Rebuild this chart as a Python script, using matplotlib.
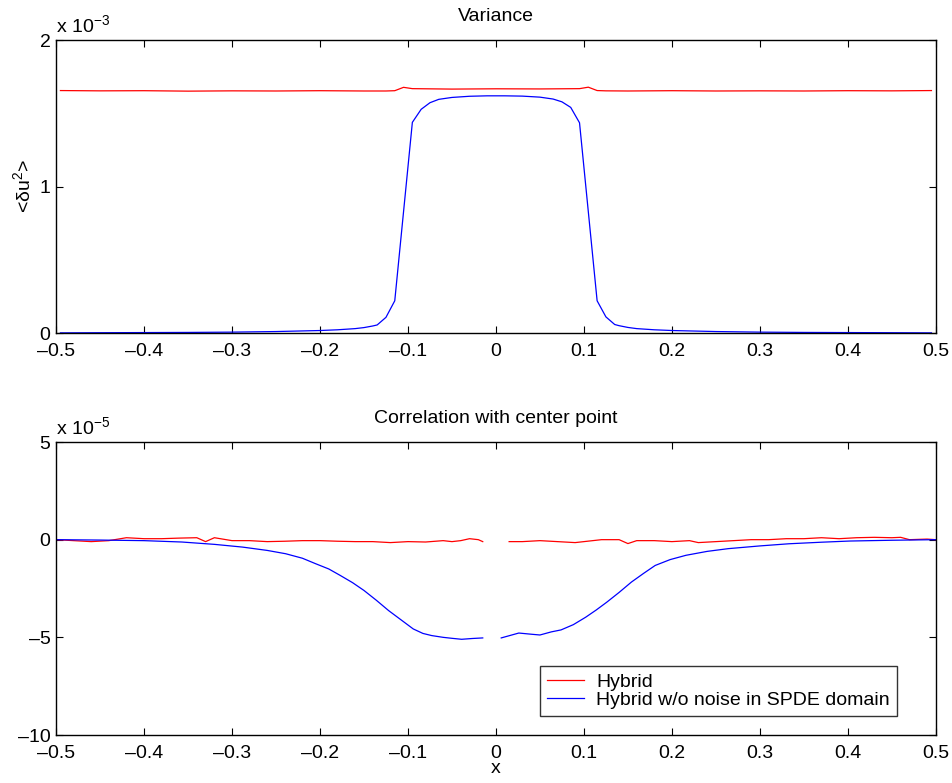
#!/usr/bin/env python3

import numpy as np
import matplotlib.pyplot as plt
from matplotlib.ticker import FuncFormatter

plt.rcParams['font.family'] = ['Liberation Sans', 'DejaVu Sans']
plt.rcParams['mathtext.fontset'] = 'custom'
plt.rcParams['mathtext.rm'] = 'Liberation Sans'
plt.rcParams['mathtext.it'] = 'Liberation Sans'

# ---- top panel: variance (units of 1e-3) ----
var_x = [-0.495, -0.45, -0.4, -0.35, -0.3, -0.25, -0.2, -0.18, -0.16, -0.15, -0.14, -0.135,
         -0.125, -0.115, -0.095, -0.085, -0.075, -0.065, -0.05, -0.03, -0.01,
         0.01, 0.03, 0.05, 0.065, 0.075, 0.085, 0.095, 0.115, 0.125,
         0.135, 0.14, 0.15, 0.16, 0.18, 0.2, 0.25, 0.3, 0.35, 0.4, 0.45, 0.495]
var_nonoise = [0.001, 0.002, 0.003, 0.004, 0.006, 0.010, 0.017, 0.022, 0.030, 0.037, 0.048, 0.055,
               0.107, 0.22, 1.438, 1.527, 1.572, 1.595, 1.608, 1.616, 1.619,
               1.619, 1.617, 1.610, 1.597, 1.578, 1.540, 1.435, 0.22, 0.11,
               0.058, 0.050, 0.038, 0.030, 0.022, 0.017, 0.010, 0.006, 0.004, 0.003, 0.002, 0.001]

hyb_x = [-0.495, -0.45, -0.4, -0.35, -0.3, -0.25, -0.2, -0.15, -0.125, -0.115, -0.105, -0.095,
         -0.05, 0.0, 0.05, 0.095, 0.105, 0.115, 0.125, 0.15, 0.2, 0.25, 0.3, 0.35, 0.4, 0.45, 0.495]
var_hybrid = [1.655, 1.653, 1.654, 1.651, 1.653, 1.652, 1.654, 1.652, 1.652, 1.654, 1.677, 1.668,
              1.665, 1.667, 1.666, 1.668, 1.678, 1.655, 1.653, 1.652, 1.654, 1.652, 1.653, 1.652,
              1.654, 1.653, 1.655]

# ---- bottom panel: correlation with center point (units of 1e-5) ----
corr_hyb_xl = [-0.5, -0.48, -0.46, -0.44, -0.42, -0.40, -0.38, -0.36, -0.34, -0.33, -0.32, -0.30,
               -0.28, -0.26, -0.24, -0.22, -0.20, -0.18, -0.16, -0.14, -0.12, -0.10, -0.08,
               -0.06, -0.05, -0.04, -0.03, -0.02, -0.015]
corr_hyb_yl = [0.0, -0.05, -0.1, -0.05, 0.1, 0.05, 0.05, 0.08, 0.1, -0.1, 0.1, -0.05,
               -0.05, -0.1, -0.08, -0.05, -0.05, -0.08, -0.1, -0.1, -0.15, -0.1, -0.12,
               -0.05, -0.1, -0.05, 0.05, 0.0, -0.1]
corr_hyb_xr = [0.015, 0.03, 0.05, 0.07, 0.09, 0.10, 0.12, 0.14, 0.15, 0.16, 0.18, 0.20, 0.22,
               0.23, 0.25, 0.27, 0.29, 0.31, 0.33, 0.35, 0.37, 0.39, 0.41, 0.43, 0.45, 0.46,
               0.47, 0.49, 0.5]
corr_hyb_yr = [-0.1, -0.1, -0.05, -0.1, -0.15, -0.1, 0.0, 0.0, -0.2, -0.05, -0.05, -0.1, -0.05,
               -0.15, -0.1, -0.05, 0.0, 0.0, 0.05, 0.05, 0.1, 0.05, 0.1, 0.12, 0.1, 0.12,
               0.0, 0.03, 0.0]

corr_nn_xl = [-0.5, -0.45, -0.4, -0.357, -0.32, -0.288, -0.26, -0.239, -0.22, -0.205, -0.19,
              -0.177, -0.163, -0.15, -0.136, -0.122, -0.108, -0.094, -0.083, -0.073, -0.06,
              -0.05, -0.039, -0.027, -0.015]
corr_nn_yl = [0.0, -0.02, -0.05, -0.12, -0.24, -0.38, -0.55, -0.72, -0.95, -1.23, -1.5,
              -1.83, -2.2, -2.6, -3.1, -3.63, -4.1, -4.57, -4.8, -4.91, -5.0,
              -5.05, -5.1, -5.06, -5.03]
corr_nn_xr = [0.006, 0.026, 0.04, 0.05, 0.063, 0.074, 0.088, 0.102, 0.114, 0.126, 0.14,
              0.154, 0.168, 0.181, 0.198, 0.216, 0.24, 0.264, 0.3, 0.333, 0.37, 0.402,
              0.45, 0.5]
corr_nn_yr = [-5.03, -4.78, -4.84, -4.88, -4.72, -4.62, -4.35, -3.97, -3.6, -3.2, -2.7,
              -2.17, -1.72, -1.32, -1.02, -0.80, -0.60, -0.46, -0.32, -0.21, -0.13, -0.07,
              -0.03, 0.0]

red = (1, 0, 0)
blue = (0, 0, 1)
lw = 0.9
fs = 14

fig = plt.figure(figsize=(9.53, 7.83), dpi=100)
ax1 = fig.add_axes([0.0588, 0.5747, 0.9232, 0.3742])
ax2 = fig.add_axes([0.0588, 0.0613, 0.9232, 0.3742])

def style(ax):
    ax.set_xlim(-0.5, 0.5)
    ax.set_xticks(np.arange(-0.5, 0.51, 0.1))
    ax.xaxis.set_major_formatter(FuncFormatter(lambda v, p: '0' if abs(v) < 1e-9 else ('%.1f' % v).replace('-', '\u2013')))
    ax.tick_params(direction='in', top=True, right=True, length=5, width=0.8, labelsize=fs)
    ax.tick_params(axis='x', pad=7)
    ax.tick_params(axis='y', pad=4)
    for s in ax.spines.values():
        s.set_linewidth(1.0)

# top
ax1.plot(np.array(hyb_x), np.array(var_hybrid) * 1e-3, color=red, lw=lw)
ax1.plot(np.array(var_x), np.array(var_nonoise) * 1e-3, color=blue, lw=lw)
style(ax1)
ax1.set_ylim(0, 2e-3)
ax1.set_yticks([0, 1e-3, 2e-3])
ax1.yaxis.set_major_formatter(FuncFormatter(lambda v, p: '%d' % round(v / 1e-3)))
ax1.set_title('Variance', fontsize=fs, pad=14)
ax1.set_ylabel('<δu$^{2}$>', fontsize=fs, labelpad=4)
ax1.text(0.0, 1.012, 'x 10$^{\u22123}$',
         transform=ax1.transAxes, fontsize=fs, ha='left', va='bottom')

# bottom
ax2.plot(np.array(corr_hyb_xl), np.array(corr_hyb_yl) * 1e-5, color=red, lw=lw, label='Hybrid')
ax2.plot(np.array(corr_nn_xl), np.array(corr_nn_yl) * 1e-5, color=blue, lw=lw,
         label='Hybrid w/o noise in SPDE domain')
ax2.plot(np.array(corr_hyb_xr), np.array(corr_hyb_yr) * 1e-5, color=red, lw=lw)
ax2.plot(np.array(corr_nn_xr), np.array(corr_nn_yr) * 1e-5, color=blue, lw=lw)
style(ax2)
ax2.set_ylim(-10e-5, 5e-5)
ax2.set_yticks([-10e-5, -5e-5, 0, 5e-5])
ax2.yaxis.set_major_formatter(FuncFormatter(lambda v, p: ('%d' % round(v / 1e-5)).replace('-', '\u2013')))
ax2.set_title('Correlation with center point', fontsize=fs, pad=14)
ax2.set_xlabel('x', fontsize=fs, labelpad=-1)
ax2.text(0.0, 1.012, 'x 10$^{\u22125}$',
         transform=ax2.transAxes, fontsize=fs, ha='left', va='bottom')
leg = ax2.legend(loc='lower right', bbox_to_anchor=(0.9557, 0.065), fontsize=fs, frameon=True,
                 fancybox=False, edgecolor='black', handlelength=1.9, borderpad=0.35,
                 labelspacing=0.05, handletextpad=0.65, borderaxespad=0)
leg.get_frame().set_linewidth(1.0)

plt.savefig('out.png', dpi=100)
